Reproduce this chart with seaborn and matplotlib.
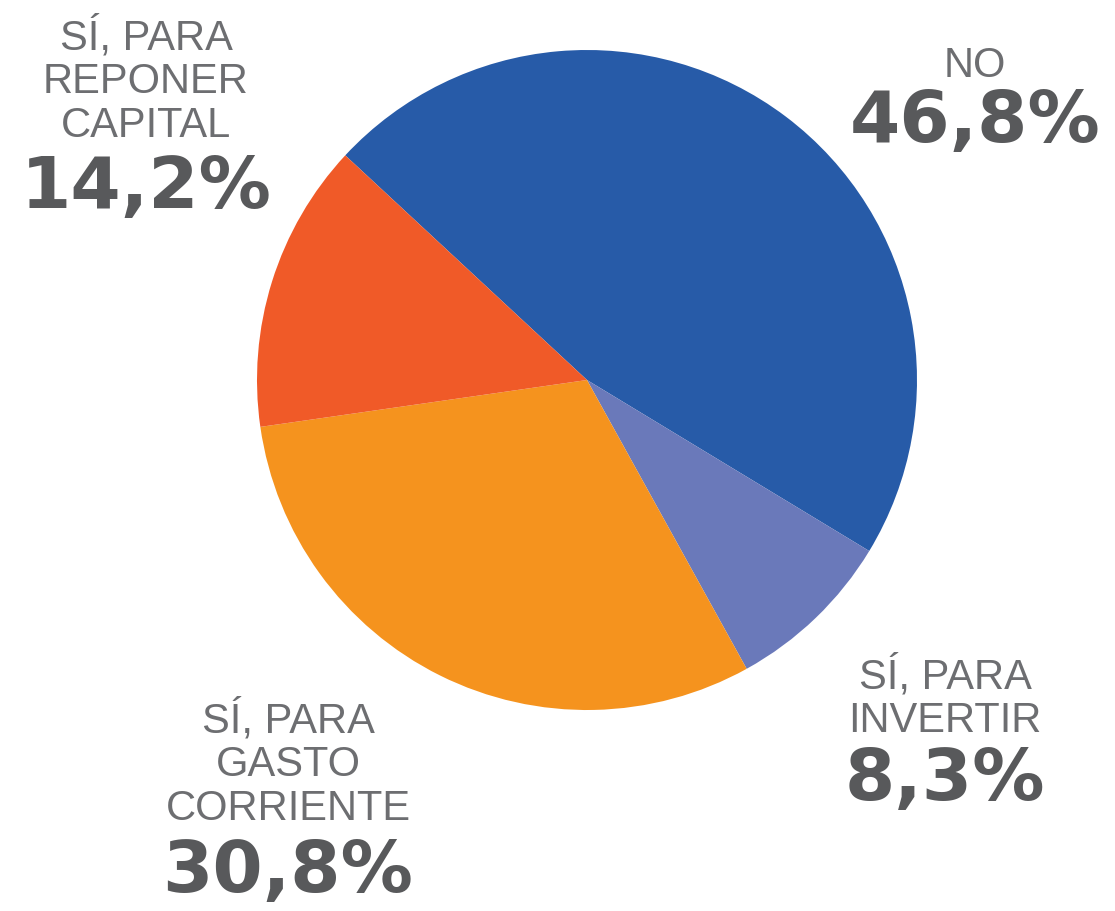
import matplotlib.pyplot as plt
import seaborn as sns

# data
categorias = ["NO", "SÍ, PARA\nINVERTIR", "SÍ, PARA\nGASTO\nCORRIENTE", "SÍ, PARA\nREPONER\nCAPITAL"]
porcentajes = [46.8, 8.3, 30.8, 14.2]
colores = ["#275BA8", "#6A79BA", "#F5931E", "#F05A28"]

sns.set_theme(style="white")
plt.rcParams['font.family'] = ['Liberation Sans', 'DejaVu Sans']

W, H = 1115, 911
fig = plt.figure(figsize=(W / 100, H / 100), dpi=100)

# pie: centre (587, 380) px, radius 330 px
cx, cy, r = 587, 380, 330
ax = fig.add_axes([(cx - r) / W, (H - cy - r) / H, 2 * r / W, 2 * r / H])
ax.pie(porcentajes, colors=sns.color_palette(colores), startangle=137.1,
       counterclock=False, radius=1, wedgeprops={"linewidth": 0})
ax.set_xlim(-1, 1)
ax.set_ylim(-1, 1)
ax.axis("off")

# label positions: x centre, last label line baseline, percent baseline (px from top)
pos_labels = [(975, 77, 142), (945, 732, 800), (288, 820, 892), (146, 137, 208)]

for cat, val, (x, yl, yp) in zip(categorias, porcentajes, pos_labels):
    fig.text(x / W, 1 - yl / H, cat, ha="center", va="baseline",
             fontsize=30, color="#6D6E71", linespacing=1.12)
    txt = f"{val:.1f}%".replace(".", ",")
    fig.text(x / W, 1 - yp / H, txt, ha="center", va="baseline",
             fontsize=52, fontweight="bold", color="#58595B",
             family=["DejaVu Sans"])

fig.savefig("out.png", dpi=100, facecolor="white")
